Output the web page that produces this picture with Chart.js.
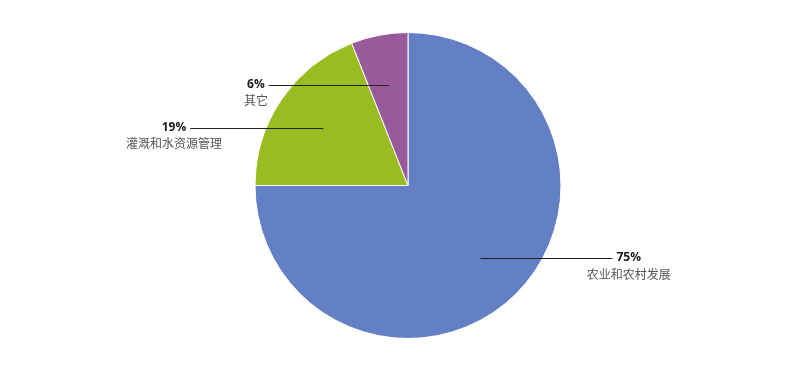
<!DOCTYPE html>
<html>
<head>
<meta charset="utf-8">
<script src="https://cdn.jsdelivr.net/npm/chart.js@4"></script>
<style>
  html, body { margin: 0; padding: 0; background: #fff; }
  #wrap { width: 800px; height: 379px; }
</style>
</head>
<body>
<div id="wrap"><canvas id="myChart"></canvas></div>
<script>
const categories = ['农业和农村发展', '灌溉和水资源管理', '其它'];
const shares = [75, 19, 6];
const sliceColors = ['#6480c4', '#99bc22', '#985a9a'];

// leader lines + two-line labels next to each slice
const leaderLabels = {
  id: 'leaderLabels',
  afterDatasetsDraw(chart, args, opts) {
    const ctx = chart.ctx;
    const meta = chart.getDatasetMeta(0);
    meta.data.forEach((arc, i) => {
      const p = arc.getProps(['x', 'y', 'startAngle', 'endAngle', 'outerRadius'], true);
      const mid = (p.startAngle + p.endAngle) / 2;
      const px = p.x + Math.cos(mid) * p.outerRadius * 0.67;
      const py = p.y + Math.sin(mid) * p.outerRadius * 0.67;
      const dir = Math.cos(mid) >= 0 ? 1 : -1;
      const endX = px + dir * opts.lengths[i];

      ctx.save();
      ctx.strokeStyle = '#222';
      ctx.lineWidth = 1.2;
      ctx.beginPath();
      ctx.moveTo(px, Math.round(py) + 0.5);
      ctx.lineTo(endX, Math.round(py) + 0.5);
      ctx.stroke();

      const pct = shares[i] + '%';
      ctx.font = 'bold 12px "Open Sans", sans-serif';
      const w = ctx.measureText(pct).width;
      const cx = endX + dir * (4 + w / 2);
      ctx.fillStyle = '#1a1a1a';
      ctx.textAlign = 'center';
      ctx.textBaseline = 'middle';
      ctx.fillText(pct, cx, py);
      ctx.font = '12px "Noto Sans CJK SC", sans-serif';
      ctx.fillStyle = '#555';
      ctx.fillText(categories[i], cx, py + 16);
      ctx.restore();
    });
  }
};

const ctx = document.getElementById('myChart').getContext('2d');
const chart = new Chart(ctx, {
  type: 'pie',
  data: {
    labels: categories,
    datasets: [{
      data: shares,
      backgroundColor: sliceColors,
      borderColor: '#ffffff',
      borderWidth: 1
    }]
  },
  options: {
    responsive: true,
    maintainAspectRatio: false,
    animation: false,
    layout: { padding: { top: 32, bottom: 40, left: 16, right: 0 } },
    plugins: {
      legend: { display: false },
      tooltip: { enabled: false },
      leaderLabels: { lengths: [132, 133, 120] }
    }
  },
  plugins: [leaderLabels]
});
</script>
</body>
</html>
